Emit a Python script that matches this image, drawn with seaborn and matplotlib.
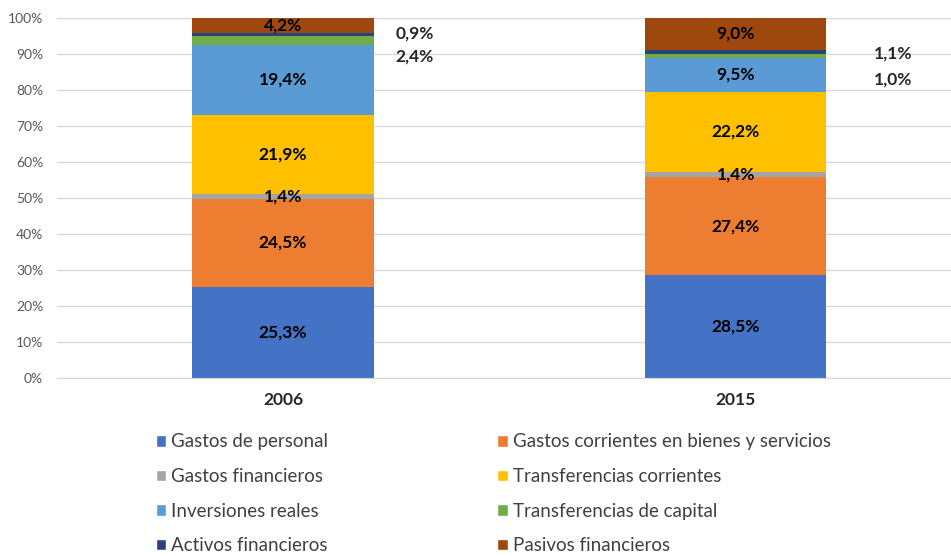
import matplotlib
matplotlib.use("Agg")
import matplotlib.pyplot as plt
import seaborn as sns
import numpy as np
import pandas as pd
from matplotlib.patches import Patch

years = ["2006", "2015"]
categories = ["Gastos de personal", "Gastos corrientes en bienes y servicios",
              "Gastos financieros", "Transferencias corrientes", "Inversiones reales",
              "Transferencias de capital", "Activos financieros", "Pasivos financieros"]
values_2006 = [25.3, 24.5, 1.4, 21.9, 19.4, 2.4, 0.9, 4.2]
values_2015 = [28.5, 27.4, 1.4, 22.2, 9.5, 1.0, 1.1, 9.0]
colors = ["#4472C4", "#ED7D31", "#A5A5A5", "#FFC000", "#5B9BD5", "#70AD47", "#264478", "#9E480E"]
yticks = [0, 10, 20, 30, 40, 50, 60, 70, 80, 90, 100]

sns.set_style("white")
plt.rcParams['font.family'] = ['Lato', 'DejaVu Sans']

fig = plt.figure(figsize=(9.51, 5.56), dpi=100)
ax = fig.add_axes([57/951, (556-378)/556, (951-57)/951, 360/556])

data = np.array([values_2006, values_2015])  # shape (years, cats)
bottoms = np.zeros(len(years))
for i, cat in enumerate(categories):
    df = pd.DataFrame({"year": years, "val": data[:, i]})
    sns.barplot(data=df, x="year", y="val", color=colors[i], width=0.4,
                bottom=bottoms.copy(), ax=ax, saturation=1, errorbar=None,
                linewidth=0, order=years)
    bottoms = bottoms + data[:, i]

def fmt(v):
    return f"{v:.1f}%".replace(".", ",")

# inside labels
inside = {0, 1, 2, 3, 4, 7}
cum = np.cumsum(data, axis=1)
for yi in range(len(years)):
    for ci in range(len(categories)):
        if ci in inside:
            center = cum[yi, ci] - data[yi, ci] / 2
            ax.text(yi, center, fmt(data[yi, ci]), ha="center", va="center",
                    fontsize=12.5, fontweight="bold", color="black")

# outside labels (small segments)
ax.text(0.291, 95.8, fmt(values_2006[6]), ha="center", va="center", fontsize=12.5, fontweight="bold")
ax.text(0.291, 89.2, fmt(values_2006[5]), ha="center", va="center", fontsize=12.5, fontweight="bold")
ax.text(1.347, 90.0, fmt(values_2015[6]), ha="center", va="center", fontsize=12.5, fontweight="bold")
ax.text(1.347, 82.8, fmt(values_2015[5]), ha="center", va="center", fontsize=12.5, fontweight="bold")

ax.set_xlim(-0.499, 1.475)
ax.set_ylim(0, 100)
ax.set_yticks(yticks)
ax.set_yticklabels([f"{t}%" for t in yticks], color="#595959", fontsize=10)
ax.tick_params(axis="y", length=0, pad=10)
ax.tick_params(axis="x", length=0, pad=10)
for lbl in ax.get_xticklabels():
    lbl.set_fontweight("bold")
    lbl.set_fontsize(12.5)
ax.set_xlabel("")
ax.set_ylabel("")
ax.yaxis.grid(True, color="#d9d9d9", linewidth=1)
ax.set_axisbelow(True)
for s in ["top", "right", "left"]:
    ax.spines[s].set_visible(False)
ax.spines["bottom"].set_color("#d9d9d9")

order = [0, 2, 4, 6, 1, 3, 5, 7]
handles = [Patch(facecolor=colors[i], label=categories[i]) for i in order]
fig.legend(handles=handles, ncol=2, loc="upper left", bbox_to_anchor=(148/951, 1 - 426/556),
           frameon=False, fontsize=13.5, handlelength=0.55, handleheight=0.55,
           handletextpad=0.3, columnspacing=9.0, labelspacing=0.94,
           labelcolor="#404040", borderaxespad=0)

fig.savefig("out.png", dpi=100)
